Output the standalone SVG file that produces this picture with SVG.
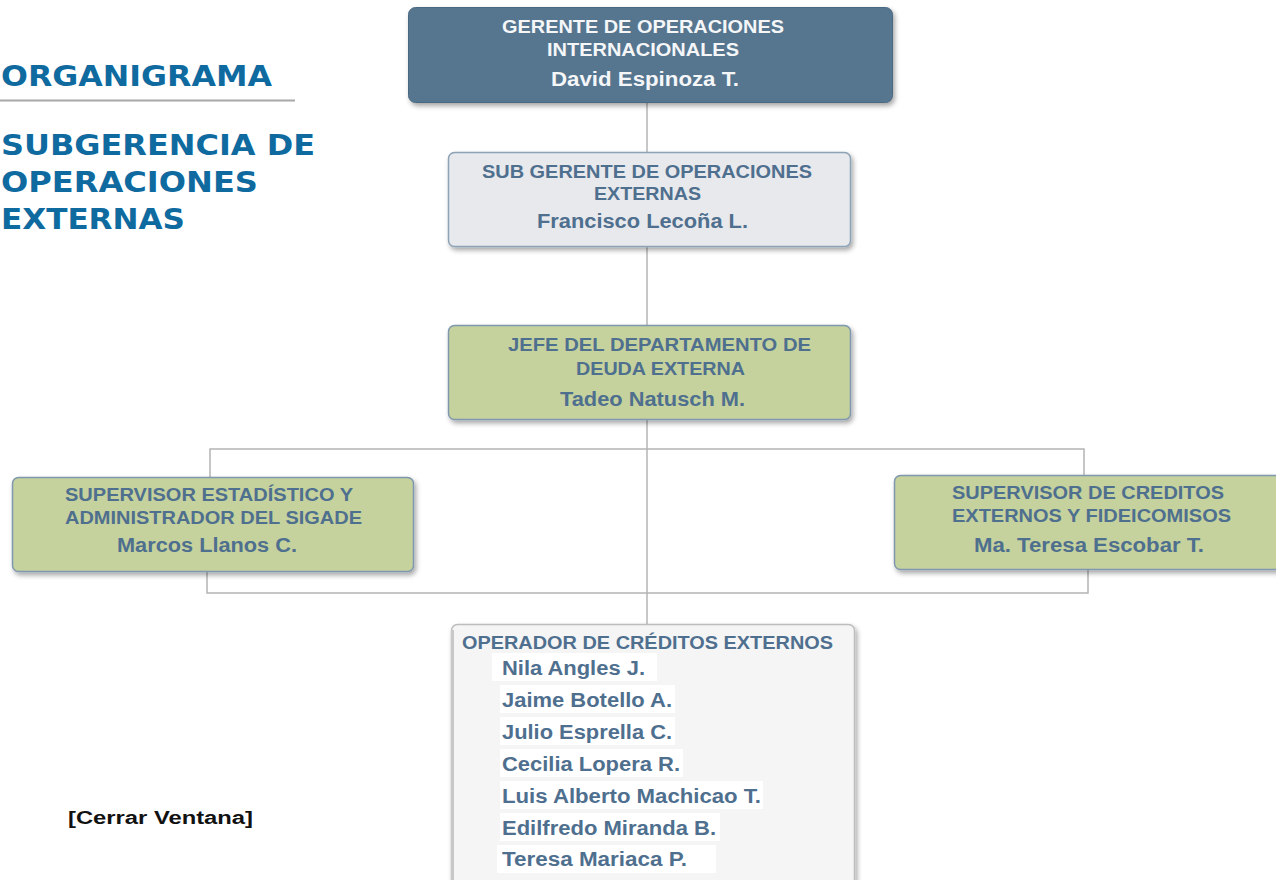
<svg xmlns="http://www.w3.org/2000/svg" width="1276" height="880" viewBox="0 0 1276 880">
<defs>
<filter id="sh" x="-10%" y="-20%" width="125%" height="150%">
<feDropShadow dx="2" dy="3" stdDeviation="2.5" flood-color="#000" flood-opacity="0.35"/>
</filter>
<style>
.t{font-family:"Liberation Sans",Arial,sans-serif;font-weight:bold;}
.ttl{font-family:"DejaVu Sans",Verdana,sans-serif;font-weight:bold;font-size:28px;fill:#0E6A9F;}
.hd{font-size:17.5px;}
.nm{font-size:20px;}
.wt{fill:#F4F6F8;}
.bl{fill:#4F6F8F;}
.con{stroke:#B4B4B4;stroke-width:1.5;fill:none;}
.hl{fill:#FFFFFF;}
</style>
</defs>
<rect width="1276" height="880" fill="#FFFFFF"/>

<g id="title">
<text class="ttl" x="1" y="86" textLength="271" lengthAdjust="spacingAndGlyphs">ORGANIGRAMA</text>
<line x1="0" y1="100.5" x2="295" y2="100.5" stroke="#A8A8A8" stroke-width="2"/>
<text class="ttl" x="1" y="155" textLength="314" lengthAdjust="spacingAndGlyphs">SUBGERENCIA DE</text>
<text class="ttl" x="1" y="191.5" textLength="257" lengthAdjust="spacingAndGlyphs">OPERACIONES</text>
<text class="ttl" x="1" y="229" textLength="184" lengthAdjust="spacingAndGlyphs">EXTERNAS</text>
</g>

<g id="connectors">
<line class="con" x1="647" y1="102" x2="647" y2="152"/>
<line class="con" x1="647" y1="247" x2="647" y2="325"/>
<line class="con" x1="647" y1="419" x2="647" y2="624"/>
<polyline class="con" points="210,477 210,449 1084,449 1084,475"/>
<polyline class="con" points="207,571 207,593 1088,593 1088,569"/>
</g>

<g id="n-gerente">
<rect x="408.5" y="7.5" width="484" height="95" rx="7" fill="#57758F" stroke="#4A6882" filter="url(#sh)"/>
<text class="t hd wt" x="502" y="33" textLength="282" lengthAdjust="spacingAndGlyphs">GERENTE DE OPERACIONES</text>
<text class="t hd wt" x="547" y="55.5" textLength="192" lengthAdjust="spacingAndGlyphs">INTERNACIONALES</text>
<text class="t nm wt" x="551" y="85.5" textLength="188" lengthAdjust="spacingAndGlyphs">David Espinoza T.</text>
</g>

<g id="n-subgerente">
<rect x="448.5" y="152.5" width="402" height="94" rx="6" fill="#E8E9EC" stroke="#8CA2B6" stroke-width="1.5" filter="url(#sh)"/>
<text class="t hd bl" x="482" y="177.5" textLength="330" lengthAdjust="spacingAndGlyphs">SUB GERENTE DE OPERACIONES</text>
<text class="t hd bl" x="594" y="200" textLength="107" lengthAdjust="spacingAndGlyphs">EXTERNAS</text>
<text class="t nm bl" x="537" y="227.5" textLength="211" lengthAdjust="spacingAndGlyphs">Francisco Lecoña L.</text>
</g>

<g id="n-jefe">
<rect x="448.5" y="325.5" width="402" height="94" rx="6" fill="#C5D29D" stroke="#7F98AE" stroke-width="1.5" filter="url(#sh)"/>
<text class="t hd bl" x="508" y="351" textLength="303" lengthAdjust="spacingAndGlyphs">JEFE DEL DEPARTAMENTO DE</text>
<text class="t hd bl" x="576" y="375" textLength="169" lengthAdjust="spacingAndGlyphs">DEUDA EXTERNA</text>
<text class="t nm bl" x="560" y="406" textLength="185" lengthAdjust="spacingAndGlyphs">Tadeo Natusch M.</text>
</g>

<g id="n-supervisor-estadistico">
<rect x="12.5" y="477.5" width="401" height="94" rx="6" fill="#C5D29D" stroke="#7F98AE" stroke-width="1.5" filter="url(#sh)"/>
<text class="t hd bl" x="65" y="500.5" textLength="288" lengthAdjust="spacingAndGlyphs">SUPERVISOR ESTADÍSTICO Y</text>
<text class="t hd bl" x="65" y="523.5" textLength="297" lengthAdjust="spacingAndGlyphs">ADMINISTRADOR DEL SIGADE</text>
<text class="t nm bl" x="117" y="551.5" textLength="180" lengthAdjust="spacingAndGlyphs">Marcos Llanos C.</text>
</g>

<g id="n-supervisor-creditos">
<rect x="894.5" y="475.5" width="395" height="94" rx="6" fill="#C5D29D" stroke="#7F98AE" stroke-width="1.5" filter="url(#sh)"/>
<text class="t hd bl" x="952" y="499" textLength="272" lengthAdjust="spacingAndGlyphs">SUPERVISOR DE CREDITOS</text>
<text class="t hd bl" x="952" y="522" textLength="279" lengthAdjust="spacingAndGlyphs">EXTERNOS Y FIDEICOMISOS</text>
<text class="t nm bl" x="974" y="551.5" textLength="230" lengthAdjust="spacingAndGlyphs">Ma. Teresa Escobar T.</text>
</g>

<g id="n-operadores">
<rect x="451.5" y="624.5" width="403" height="270" rx="6" fill="#F5F5F5" stroke="#BDBDBD" stroke-width="1.5" filter="url(#sh)"/>
<line x1="452.5" y1="630" x2="452.5" y2="880" stroke="#C8C8C8" stroke-width="3"/>
<text class="t hd bl" x="462" y="648.5" textLength="371" lengthAdjust="spacingAndGlyphs">OPERADOR DE CRÉDITOS EXTERNOS</text>
<rect class="hl" x="492" y="653" width="165" height="28"/>
<rect class="hl" x="500" y="685" width="175" height="28"/>
<rect class="hl" x="500" y="717" width="175" height="28"/>
<rect class="hl" x="500" y="749" width="183" height="28"/>
<rect class="hl" x="500" y="781" width="263" height="28"/>
<rect class="hl" x="500" y="813" width="220" height="28"/>
<rect class="hl" x="497" y="845" width="219" height="28"/>
<text class="t nm bl" x="502" y="675" textLength="143" lengthAdjust="spacingAndGlyphs">Nila Angles J.</text>
<text class="t nm bl" x="502" y="707" textLength="170" lengthAdjust="spacingAndGlyphs">Jaime Botello A.</text>
<text class="t nm bl" x="502" y="739" textLength="170" lengthAdjust="spacingAndGlyphs">Julio Esprella C.</text>
<text class="t nm bl" x="502" y="771" textLength="178" lengthAdjust="spacingAndGlyphs">Cecilia Lopera R.</text>
<text class="t nm bl" x="502" y="803" textLength="259" lengthAdjust="spacingAndGlyphs">Luis Alberto Machicao T.</text>
<text class="t nm bl" x="502" y="834.5" textLength="214" lengthAdjust="spacingAndGlyphs">Edilfredo Miranda B.</text>
<text class="t nm bl" x="502" y="866" textLength="185" lengthAdjust="spacingAndGlyphs">Teresa Mariaca P.</text>
</g>

<g id="cerrar">
<text class="t" x="68" y="824" font-size="18" fill="#111111" textLength="185" lengthAdjust="spacingAndGlyphs">[Cerrar Ventana]</text>
</g>
</svg>
